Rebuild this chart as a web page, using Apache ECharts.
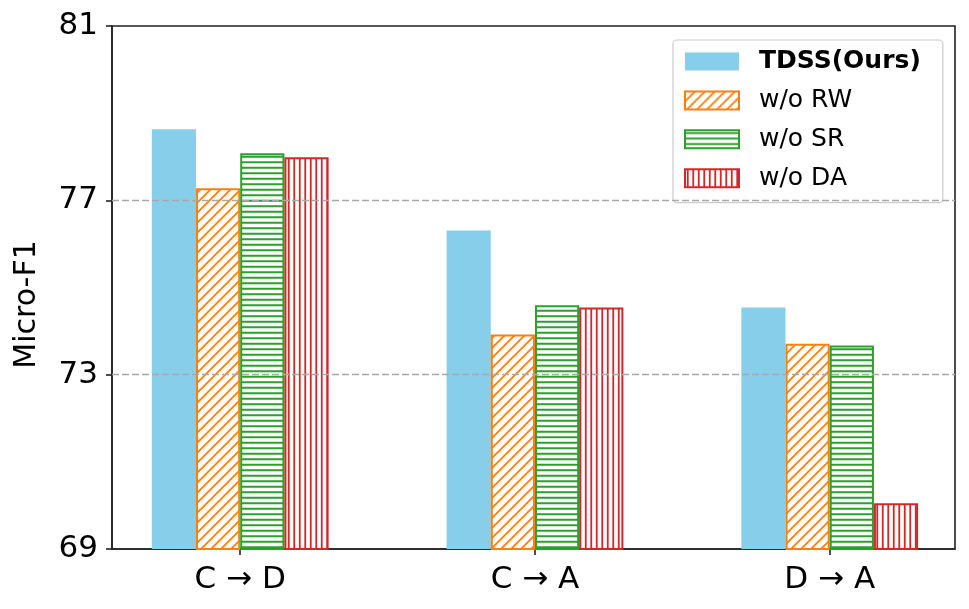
<!DOCTYPE html>
<html>
<head>
<meta charset="utf-8">
<script src="https://cdn.jsdelivr.net/npm/echarts@6/dist/echarts.min.js"></script>
<style>
html,body{margin:0;padding:0;background:#fff;}
#chart{width:969px;height:609px;}
</style>
</head>
<body>
<div id="chart"></div>
<script>
const categories = ['C → D', 'C → A', 'D → A'];
const seriesNames = ['TDSS(Ours)', 'w/o RW', 'w/o SR', 'w/o DA'];
const tdss = [78.63, 76.31, 74.54];
const woRW = [77.28, 73.92, 73.71];
const woSR = [78.08, 74.59, 73.67];
const woDA = [77.99, 74.54, 70.05];
const yTicks = [69, 73, 77, 81];

const FONT = 'DejaVu Sans';

function hatch(color, kind) {
  const s = kind === 'diag' ? 20 : 11;
  const c = document.createElement('canvas');
  c.width = s; c.height = s;
  const ctx = c.getContext('2d');
  ctx.fillStyle = '#ffffff';
  ctx.fillRect(0, 0, s, s);
  ctx.strokeStyle = color;
  ctx.lineWidth = 1.8;
  ctx.beginPath();
  if (kind === 'h') {
    [s / 4, 3 * s / 4].forEach(y => { ctx.moveTo(0, y); ctx.lineTo(s, y); });
  } else if (kind === 'v') {
    [s / 4, 3 * s / 4].forEach(x => { ctx.moveTo(x, 0); ctx.lineTo(x, s); });
  } else {
    [0, s / 2, s, 1.5 * s, 2 * s].forEach(k => { ctx.moveTo(-2, k + 2); ctx.lineTo(k + 2, -2); });
  }
  ctx.stroke();
  return { image: c, repeat: 'repeat' };
}

const styles = [
  { color: '#87CEEB', borderWidth: 0 },
  { color: hatch('#ff7f0e', 'diag'), borderColor: '#ff7f0e', borderWidth: 2 },
  { color: hatch('#2ca02c', 'h'), borderColor: '#2ca02c', borderWidth: 2 },
  { color: hatch('#d62728', 'v'), borderColor: '#d62728', borderWidth: 2 }
];
const values = [tdss, woRW, woSR, woDA];

const series = seriesNames.map((name, si) => ({
  name: name,
  type: 'bar',
  barWidth: 44.2,
  barGap: '0%',
  itemStyle: styles[si],
  emphasis: { disabled: true },
  data: values[si].map((v, i) => [i, v]),
  markLine: si === 0 ? {
    silent: true,
    symbol: ['none', 'none'],
    label: { show: false },
    lineStyle: { color: '#a8a8a8', type: [7, 3], width: 1.3 },
    data: yTicks.slice(1, -1).map(v => ({ yAxis: v }))
  } : undefined
}));

const chart = echarts.init(document.getElementById('chart'), null, { renderer: 'canvas' });
chart.setOption({
  animation: false,
  backgroundColor: '#ffffff',
  textStyle: { fontFamily: FONT },
  grid: {
    left: 112, right: 14, top: 26, bottom: 60,
    show: true, borderColor: '#222222', borderWidth: 1.6, backgroundColor: 'transparent'
  },
  legend: {
    orient: 'vertical',
    left: 673, top: 40,
    itemWidth: 54, itemHeight: 18, itemGap: 13.9,
    padding: [9, 22, 12, 11],
    backgroundColor: '#ffffff',
    borderColor: '#cccccc', borderWidth: 1.2, borderRadius: 4,
    icon: 'rect',
    textStyle: { fontFamily: FONT, fontSize: 25, color: '#000', lineHeight: 18, padding: [0, 0, 0, 15] },
    data: seriesNames.map((n, i) => i === 0 ? { name: n, textStyle: { fontWeight: 'bold' } } : { name: n })
  },
  xAxis: {
    type: 'value',
    min: -0.435, max: 2.425,
    splitLine: { show: false },
    axisLine: { show: true, onZero: false, lineStyle: { color: '#222222', width: 1.6 } },
    axisTick: { show: true, length: 6, customValues: [0, 1, 2], lineStyle: { color: '#222222', width: 1.6 } },
    axisLabel: {
      customValues: [0, 1, 2],
      formatter: v => categories[Math.round(v)],
      fontFamily: FONT, fontSize: 31, color: '#000', margin: 15
    }
  },
  yAxis: {
    type: 'value',
    min: yTicks[0], max: yTicks[yTicks.length - 1], interval: 4,
    name: 'Micro-F1',
    nameLocation: 'middle',
    nameGap: 70,
    nameTextStyle: { fontFamily: FONT, fontSize: 30, color: '#000', padding: [0, 34, 0, 0] },
    splitLine: { show: false },
    axisLine: { show: true, onZero: false, lineStyle: { color: '#222222', width: 1.6 } },
    axisTick: { show: true, length: 6, lineStyle: { color: '#222222', width: 1.6 } },
    axisLabel: { fontFamily: FONT, fontSize: 31, color: '#000', margin: 14 }
  },
  series: series
});
</script>
</body>
</html>
